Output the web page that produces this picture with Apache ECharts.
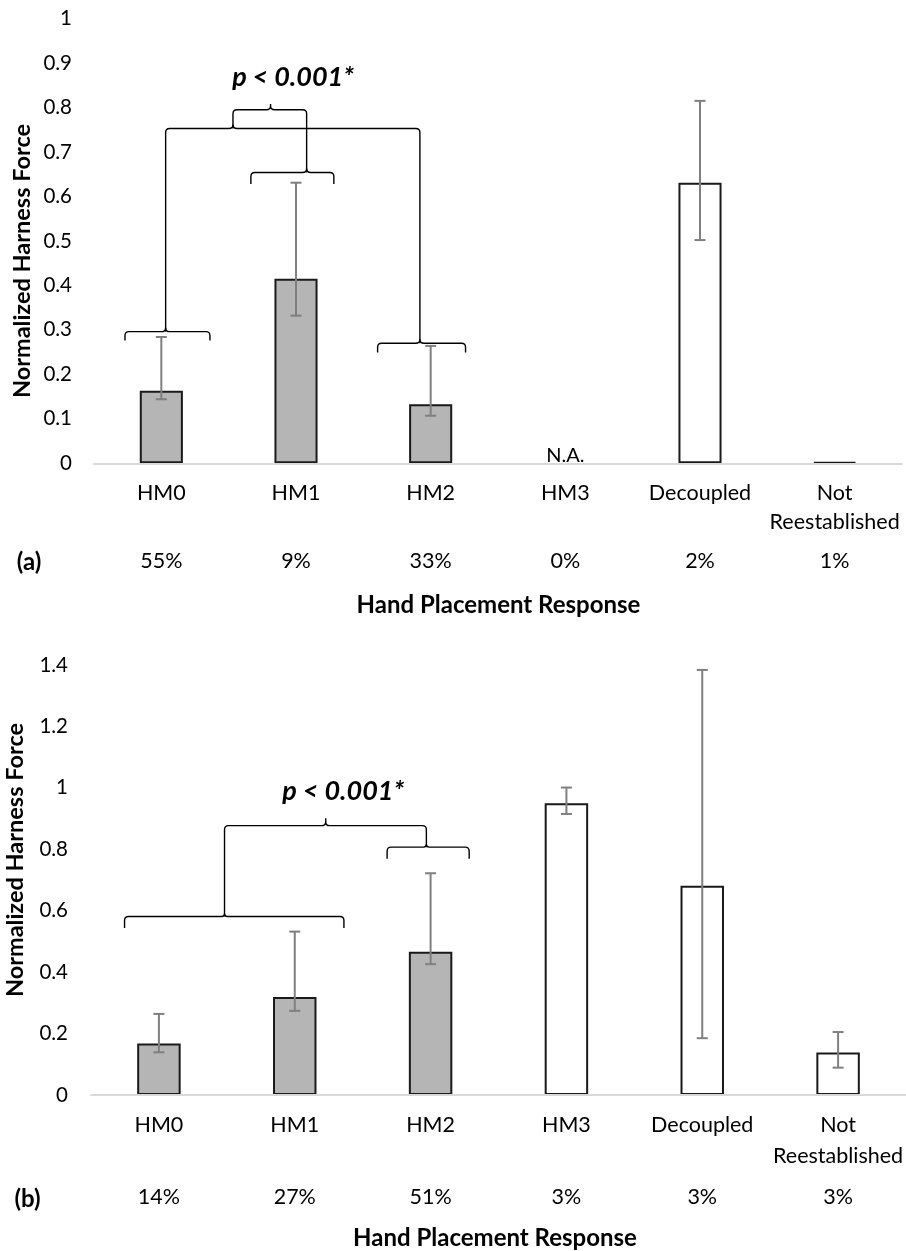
<!DOCTYPE html>
<html>
<head>
<meta charset="utf-8">
<script src="https://cdn.jsdelivr.net/npm/echarts@6/dist/echarts.min.js"></script>
<style>
html,body{margin:0;padding:0;background:#fff;}
#chart{width:906px;height:1251px;}
</style>
</head>
<body>
<div id="chart"></div>
<script>
// ---------- data ----------
const categories = ['HM0', 'HM1', 'HM2', 'HM3', 'Decoupled', 'Not\nReestablished'];
const filled = [true, true, true, false, false, false];

// panel (a)
const meanA = [0.163, 0.415, 0.133, null, 0.631, 0.003];
const lowA  = [0.144, 0.332, 0.107, null, 0.502, null];
const highA = [0.284, 0.631, 0.264, null, 0.815, null];
const pctA  = ['55%', '9%', '33%', '0%', '2%', '1%'];
const yTicksA = { min: 0, max: 1, interval: 0.1 };

// panel (b)
const meanB = [0.168, 0.319, 0.466, 0.950, 0.681, 0.138];
const lowB  = [0.139, 0.274, 0.426, 0.915, 0.185, 0.089];
const highB = [0.264, 0.532, 0.722, 1.001, 1.384, 0.205];
const pctB  = ['14%', '27%', '51%', '3%', '3%', '3%'];
const yTicksB = { min: 0, max: 1.4, interval: 0.2 };

// significance brackets: [xStart, xEnd, xPeak, yLine, yLeftEnd, yRightEnd, yPeak] (category units / data units)
const bracketsA = [
  [-0.270, 0.361, 0.032, 0.296, 0.276, 0.276, 0.305],
  [1.606, 2.259, 1.920, 0.270, 0.249, 0.249, 0.279],
  [0.665, 1.281, 1.079, 0.654, 0.628, 0.628, 0.663],
  [0.032, 1.920, 0.532, 0.753, 0.296, 0.270, 0.762],
  [0.532, 1.079, 0.811, 0.795, 0.753, 0.654, 0.808]
];
const bracketsB = [
  [-0.253, 1.362, 0.483, 0.581, 0.544, 0.544, 0.590],
  [1.680, 2.284, 1.969, 0.807, 0.769, 0.769, 0.816],
  [0.483, 1.969, 1.228, 0.877, 0.581, 0.807, 0.901]
];
const sigText = 'p < 0.001*';
const sigPosA = [0.978, 0.869];
const sigPosB = [1.357, 0.9875];

// ---------- styles ----------
const FONT = 'Lato';
const GRAY = '#b5b5b5';
const EDGE = '#1a1a1a';
const ERR = '#7f7f7f';

function barData(mean) {
  return mean.map((v, i) => {
    if (v == null) {
      return {
        value: 0,
        itemStyle: { borderWidth: 0, color: 'transparent' },
        label: { show: true, position: 'top', distance: -2, formatter: 'N.A.',
                 fontFamily: FONT, fontSize: 20, color: '#000' }
      };
    }
    return {
      value: v,
      itemStyle: { color: filled[i] ? GRAY : '#ffffff', borderColor: EDGE, borderWidth: 2 }
    };
  });
}

function errData(low, high) {
  const out = [];
  low.forEach((l, i) => { if (l != null && high[i] != null) out.push([i, l, high[i]]); });
  return out;
}

function renderErr(params, api) {
  const x = api.value(0);
  const top = api.coord([x, api.value(2)]);
  const bot = api.coord([x, api.value(1)]);
  const hw = 5.5;
  const st = { stroke: ERR, lineWidth: 2, fill: null };
  return {
    type: 'group',
    children: [
      { type: 'line', shape: { x1: top[0], y1: top[1], x2: bot[0], y2: bot[1] }, style: st },
      { type: 'line', shape: { x1: top[0] - hw, y1: top[1], x2: top[0] + hw, y2: top[1] }, style: st },
      { type: 'line', shape: { x1: bot[0] - hw, y1: bot[1], x2: bot[0] + hw, y2: bot[1] }, style: st }
    ]
  };
}

function renderBracket(params, api) {
  const x1 = api.coord([api.value(0), api.value(3)])[0];
  const x2 = api.coord([api.value(1), api.value(3)])[0];
  const xm = api.coord([api.value(2), api.value(3)])[0];
  const yL = api.coord([0, api.value(3)])[1];
  const y1 = api.coord([0, api.value(4)])[1];
  const y2 = api.coord([0, api.value(5)])[1];
  const yP = api.coord([0, api.value(6)])[1];
  const r = 4;
  const r1 = Math.min(r, Math.abs(y1 - yL));
  const r2 = Math.min(r, Math.abs(y2 - yL));
  const rp = Math.min(r, Math.abs(yL - yP));
  const d = [
    'M', x1, y1, 'L', x1, yL + r1, 'Q', x1, yL, x1 + r1, yL,
    'L', xm - rp, yL, 'Q', xm, yL, xm, yL - rp, 'L', xm, yP,
    'M', x2, y2, 'L', x2, yL + r2, 'Q', x2, yL, x2 - r2, yL,
    'L', xm + rp, yL, 'Q', xm, yL, xm, yL - rp
  ].join(' ');
  return {
    type: 'path',
    shape: { pathData: d },
    style: { stroke: '#000', lineWidth: 1.4, fill: null }
  };
}

function renderSig(params, api) {
  const p = api.coord([api.value(0), api.value(1)]);
  return {
    type: 'text',
    x: p[0], y: p[1],
    style: {
      text: sigText, font: 'italic bold 27px ' + FONT, fill: '#000',
      align: 'center', verticalAlign: 'middle', textAlign: 'center', textVerticalAlign: 'middle'
    }
  };
}

const gridA = { left: 94, top: 18.6, width: 808, height: 444.7 };
const gridB = { left: 91, top: 665, width: 824, height: 430 };

function catAxis(gi, pct, lineH) {
  return [
    {
      type: 'category', gridIndex: gi, data: categories, z: 10,
      axisLine: { show: true, lineStyle: { color: '#d9d9d9', width: 2 } },
      axisTick: { show: false },
      axisLabel: { interval: 0, margin: 15, fontFamily: FONT, fontSize: 21.5, lineHeight: lineH, color: '#000' }
    },
    {
      type: 'category', gridIndex: gi, data: pct, position: 'bottom',
      axisLine: { show: false }, axisTick: { show: false },
      axisLabel: { interval: 0, margin: gi === 0 ? 86 : 90, fontFamily: FONT, fontSize: 21.5, lineHeight: 24, color: '#000' }
    },
    { type: 'value', gridIndex: gi, min: -0.5, max: 5.5, show: false }
  ];
}

function valAxis(gi, t, margin) {
  return {
    type: 'value', gridIndex: gi, min: t.min, max: t.max, interval: t.interval,
    splitLine: { show: false }, axisLine: { show: false }, axisTick: { show: false },
    axisLabel: { margin: margin, fontFamily: FONT, fontSize: 20.5, color: '#000' }
  };
}

const option = {
  backgroundColor: '#fff',
  animation: false,
  grid: [gridA, gridB],
  xAxis: [].concat(catAxis(0, pctA, 29), catAxis(1, pctB, 31)),
  yAxis: [valAxis(0, yTicksA, 22), valAxis(1, yTicksB, 23)],
  series: [
    { type: 'bar', xAxisIndex: 0, yAxisIndex: 0, barWidth: '32%', data: barData(meanA) },
    { type: 'custom', xAxisIndex: 2, yAxisIndex: 0, renderItem: renderErr, data: errData(lowA, highA), z: 4 },
    { type: 'custom', xAxisIndex: 2, yAxisIndex: 0, renderItem: renderBracket, data: bracketsA, z: 4 },
    { type: 'custom', xAxisIndex: 2, yAxisIndex: 0, renderItem: renderSig, data: [sigPosA], z: 4 },
    { type: 'bar', xAxisIndex: 3, yAxisIndex: 1, barWidth: '32%', data: barData(meanB) },
    { type: 'custom', xAxisIndex: 5, yAxisIndex: 1, renderItem: renderErr, data: errData(lowB, highB), z: 4 },
    { type: 'custom', xAxisIndex: 5, yAxisIndex: 1, renderItem: renderBracket, data: bracketsB, z: 4 },
    { type: 'custom', xAxisIndex: 5, yAxisIndex: 1, renderItem: renderSig, data: [sigPosB], z: 4 }
  ],
  graphic: [
    { type: 'text', x: 22, y: 261, rotation: Math.PI / 2,
      style: { text: 'Normalized Harness Force', font: 'bold 23.5px ' + FONT, fill: '#000', textAlign: 'center', textVerticalAlign: 'middle' } },
    { type: 'text', x: 15.5, y: 860, rotation: Math.PI / 2,
      style: { text: 'Normalized Harness Force', font: 'bold 23.5px ' + FONT, fill: '#000', textAlign: 'center', textVerticalAlign: 'middle' } },
    { type: 'text', x: 29, y: 562.7,
      style: { text: '(a)', font: 'bold 24px ' + FONT, fill: '#000', textAlign: 'center', textVerticalAlign: 'middle' } },
    { type: 'text', x: 27.5, y: 1199,
      style: { text: '(b)', font: 'bold 24px ' + FONT, fill: '#000', textAlign: 'center', textVerticalAlign: 'middle' } },
    { type: 'text', x: 498.5, y: 605,
      style: { text: 'Hand Placement Response', font: 'bold 24px ' + FONT, fill: '#000', textAlign: 'center', textVerticalAlign: 'middle' } },
    { type: 'text', x: 495, y: 1238,
      style: { text: 'Hand Placement Response', font: 'bold 24px ' + FONT, fill: '#000', textAlign: 'center', textVerticalAlign: 'middle' } }
  ]
};

const chart = echarts.init(document.getElementById('chart'), null, { renderer: 'canvas' });
chart.setOption(option);
</script>
</body>
</html>
